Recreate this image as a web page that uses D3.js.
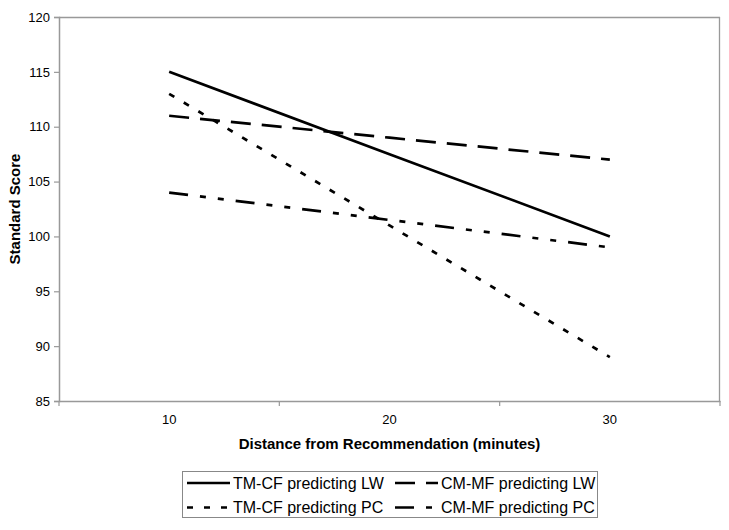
<!DOCTYPE html>
<html>
<head>
<meta charset="utf-8">
<script src="https://cdn.jsdelivr.net/npm/d3@7"></script>
<style>
  html, body { margin: 0; padding: 0; background: #fff; }
  svg { display: block; font-family: "Liberation Sans", Arial, sans-serif; }
</style>
</head>
<body>
<svg id="chart" width="729" height="530"></svg>
<script>
// ---- data ----
const categories = ["10", "20", "30"];
const yTicks = [85, 90, 95, 100, 105, 110, 115, 120];
const seriesNames = ["TM-CF predicting LW", "CM-MF predicting LW", "TM-CF predicting PC", "CM-MF predicting PC"];
const tmcfLW = [115, 107.5, 100];
const cmmfLW = [111, 109, 107];
const tmcfPC = [113, 101, 89];
const cmmfPC = [104, 101.5, 99];
const xTitle = "Distance from Recommendation (minutes)";
const yTitle = "Standard Score";

// ---- styles (not data) ----
const dashes = [null, "20,11", "6,11", "19,12,6,12,6,12"];
const seriesValues = [tmcfLW, cmmfLW, tmcfPC, cmmfPC];

const svg = d3.select("#chart");
const L = 59, R = 720, T = 17, B = 401;
const axisColor = "#999";

const x = d3.scaleBand().domain(categories).range([L, R]).padding(0);
const y = d3.scaleLinear().domain([85, 120]).range([B, T]);

// plot border (top & right)
svg.append("line").attr("x1", L).attr("x2", R).attr("y1", T + 0.5).attr("y2", T + 0.5)
  .attr("stroke", axisColor).attr("stroke-width", 1.3);
svg.append("line").attr("x1", R - 0.5).attr("x2", R - 0.5).attr("y1", T).attr("y2", B)
  .attr("stroke", axisColor).attr("stroke-width", 1.3);

// y axis
const yAxis = svg.append("g").attr("transform", `translate(${L},0)`)
  .call(d3.axisLeft(y).tickValues(yTicks).tickSize(5).tickPadding(4).tickFormat(d3.format("d")));
yAxis.select(".domain").attr("stroke", axisColor).attr("stroke-width", 1.5);
yAxis.selectAll(".tick line").attr("stroke", axisColor).attr("stroke-width", 1.2);
yAxis.selectAll("text").attr("font-size", 13).attr("fill", "#000")
  .attr("font-family", "'Liberation Sans', Arial, sans-serif");

// x axis (labels at category centers, ticks at category boundaries)
const xAxis = svg.append("g").attr("transform", `translate(0,${B})`)
  .call(d3.axisBottom(x).tickSize(0).tickPadding(14));
xAxis.select(".domain").attr("stroke", axisColor).attr("stroke-width", 1.5);
xAxis.selectAll("text").attr("font-size", 13).attr("fill", "#000")
  .attr("font-family", "'Liberation Sans', Arial, sans-serif");
const boundaries = categories.map(c => x(c)).concat([x(categories[categories.length - 1]) + x.bandwidth()]);
xAxis.selectAll(".bt").data(boundaries).enter().append("line")
  .attr("x1", d => d).attr("x2", d => d).attr("y1", 0).attr("y2", 5)
  .attr("stroke", axisColor).attr("stroke-width", 1.2);

// titles
svg.append("text").attr("x", (L + R) / 2).attr("y", 449).attr("text-anchor", "middle")
  .attr("font-size", 15).attr("font-weight", "bold").text(xTitle);
svg.append("text").attr("transform", `translate(20,${(T + B) / 2}) rotate(-90)`)
  .attr("text-anchor", "middle").attr("font-size", 15).attr("font-weight", "bold").text(yTitle);

// lines
const line = d3.line()
  .x((d, i) => x(categories[i]) + x.bandwidth() / 2)
  .y(d => y(d));
seriesValues.forEach((vals, k) => {
  svg.append("path").datum(vals).attr("d", line)
    .attr("fill", "none").attr("stroke", "#000").attr("stroke-width", 2.7)
    .attr("stroke-dasharray", dashes[k]);
});

// legend
const lg = svg.append("g");
lg.append("rect").attr("x", 182.5).attr("y", 471.5).attr("width", 415).attr("height", 46)
  .attr("fill", "#fff").attr("stroke", "#888").attr("stroke-width", 1);
const legendPos = [
  { sx: 187, rowY: 483 }, { sx: 395, rowY: 483 },
  { sx: 187, rowY: 507.5 }, { sx: 395, rowY: 507.5 }
];
seriesNames.forEach((name, k) => {
  const p = legendPos[k];
  lg.append("line").attr("x1", p.sx).attr("x2", p.sx + 43).attr("y1", p.rowY).attr("y2", p.rowY)
    .attr("stroke", "#000").attr("stroke-width", 2.7).attr("stroke-dasharray", dashes[k]);
  lg.append("text").attr("x", p.sx + 46).attr("y", p.rowY + 5.7)
    .attr("font-size", 16).attr("fill", "#000").text(name);
});
</script>
</body>
</html>
